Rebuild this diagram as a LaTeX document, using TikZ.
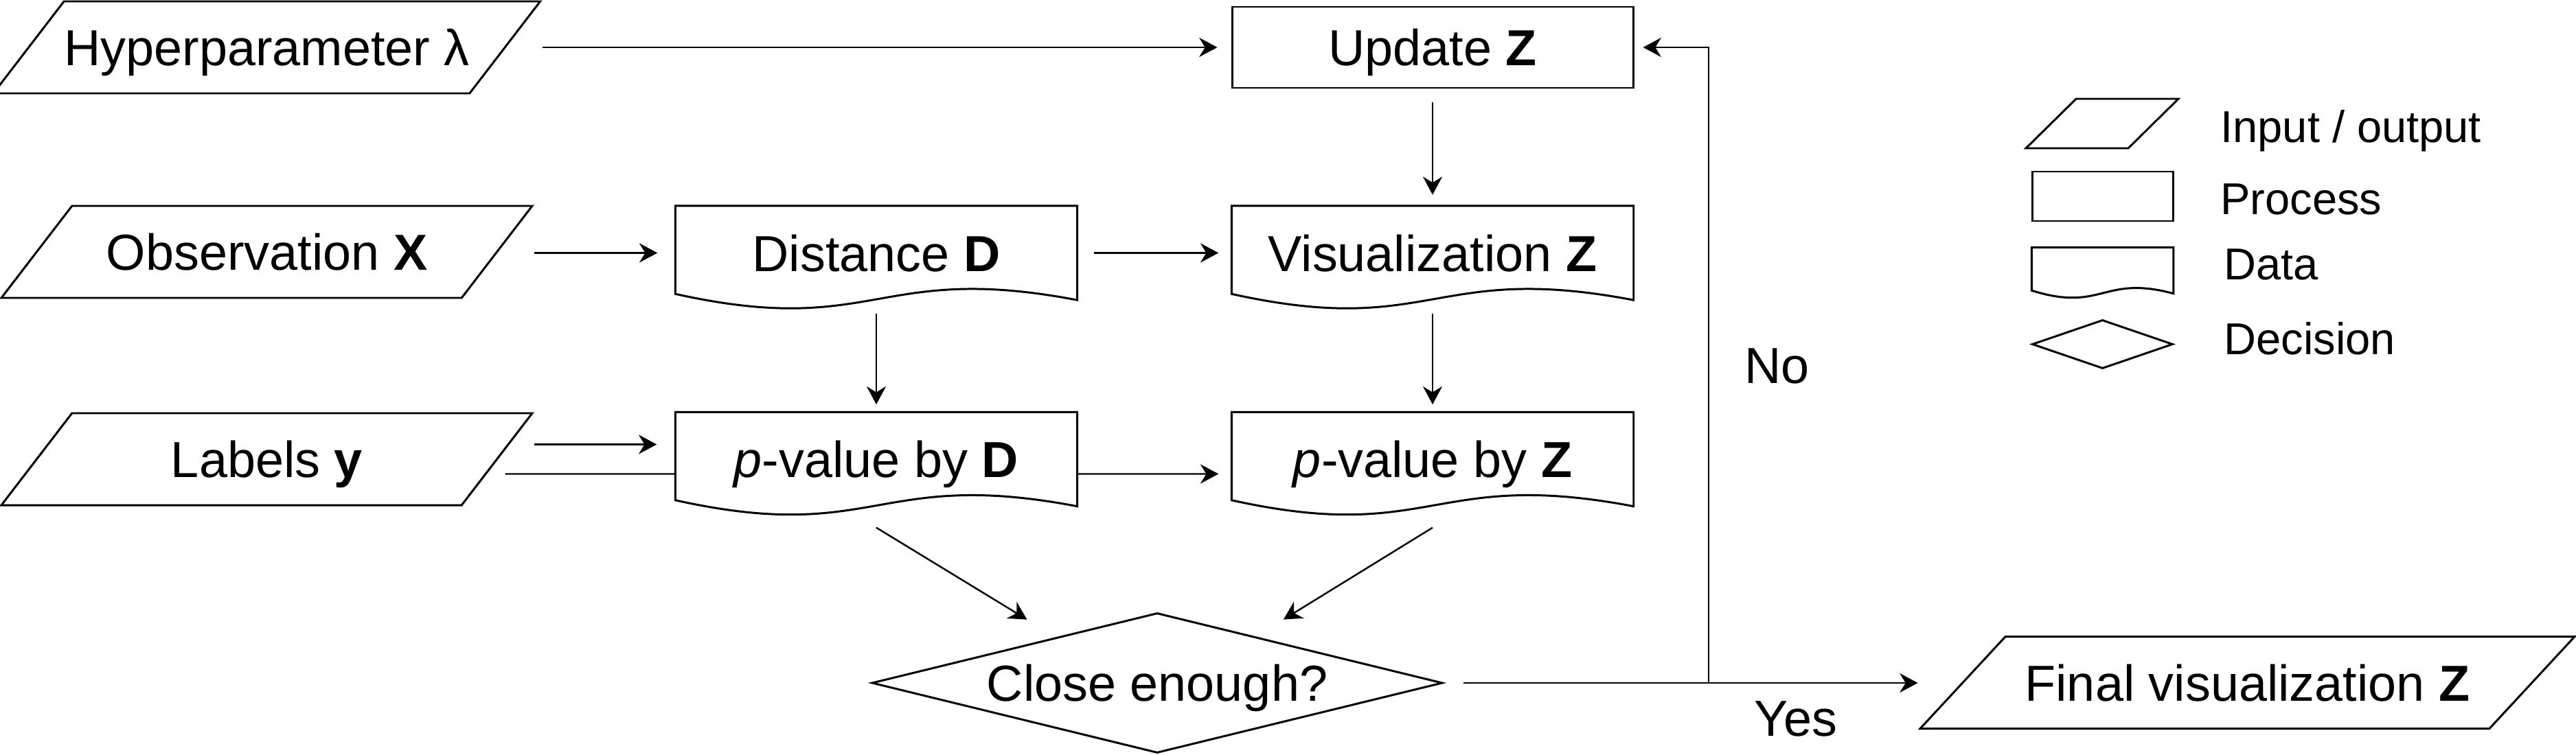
\documentclass[tikz,border=0pt]{standalone}
\usepackage{fontspec}
\setmainfont{Liberation Sans}
\usetikzlibrary{arrows.meta, shapes.geometric, calc, backgrounds}

% outline of a data (document) symbol around a plain node
\newcommand{\docwave}[2]{%
  \draw[line width=0.85pt] (#1.south east) -- (#1.north east) -- (#1.north west)
    -- ($(#1.south west)+(0,0.16*#2)$)
    .. controls ($(#1.south)+(0,-#2)$) and ($(#1.south)+(0,#2)$) .. (#1.south east) -- cycle;
}

\begin{document}
\begin{tikzpicture}[
  font=\fontsize{21}{25}\selectfont,
  every node/.style={text height=0.53cm, text depth=0cm},
  io/.style={trapezium, trapezium left angle=52.5, trapezium right angle=127.5,
             trapezium stretches body=true, draw, fill=white, line width=0.85pt,
             inner xsep=0pt, inner ysep=0.405cm, minimum width=7.73cm},
  proc/.style={rectangle, draw, fill=white, line width=0.85pt,
               minimum width=5.84cm, minimum height=1.18cm, inner sep=0pt},
  data/.style={rectangle, fill=white, minimum width=5.84cm, minimum height=1.36cm, inner sep=0pt},
  decide/.style={diamond, draw, fill=white, line width=0.85pt, aspect=4,
                 minimum width=8.31cm, minimum height=2.04cm, inner sep=0pt},
  arr/.style={-{Stealth[length=7.5pt, width=8pt]}, line width=0.7pt},
  legtext/.style={anchor=base west, font=\fontsize{18.5}{22}\selectfont}
]
\useasboundingbox (0,0) rectangle (37.51,10.99);

% inputs
\node[io] (hyp) at (3.885, 10.30) {Hyperparameter λ};
\node[io] (obs) at (3.885, 7.32) {Observation \textbf{X}};
\node[io] (lab) at (3.885, 4.30) {Labels \textbf{y}};

% process and data
\node[proc] (upd) at (20.86, 10.30) {Update \textbf{Z}};
\node[data] (dist) at (12.76, 7.305) {Distance \textbf{D}};
\node[data] (vis) at (20.86, 7.305) {Visualization \textbf{Z}};
\node[data] (pD) at (12.76, 4.30) {\textit{p}-value by \textbf{D}};
\node[data] (pZ) at (20.86, 4.30) {\textit{p}-value by \textbf{Z}};
\docwave{dist}{0.56}
\docwave{vis}{0.56}
\docwave{pD}{0.56}
\docwave{pZ}{0.56}

\node[decide] (dec) at (16.85, 1.04) {Close enough?};
\node[io, trapezium left angle=47.2, trapezium right angle=132.8,
      minimum width=9.53cm] (final) at (32.725, 1.045) {Final visualization \textbf{Z}};

% legend
\node[io, trapezium left angle=44.6, trapezium right angle=135.4, text height=0pt,
      inner ysep=0.36cm, minimum width=2.22cm] (lio) at (30.61, 9.19) {};
\node[proc, minimum width=2.05cm, minimum height=0.72cm, text height=0pt] (lproc) at (30.615, 8.13) {};
\node[data, minimum width=2.05cm, minimum height=0.66cm, text height=0pt] (ldata) at (30.615, 7.05) {};
\docwave{ldata}{0.28}
\node[decide, minimum width=2.05cm, minimum height=0.71cm, text height=0pt] (ldec) at (30.615, 5.975) {};
\node[legtext] (tio) at (32.21, 8.91) {Input / output};
\node[legtext] (tproc) at (32.21, 7.87) {Process};
\node[legtext] (tdata) at (32.26, 6.92) {Data};
\node[legtext] (tdec) at (32.26, 5.83) {Decision};

% connectors
\coordinate (pDin) at ($(pD.west)+(0,0.215)$);
\coordinate (pZin) at ($(pZ.west)+(0,-0.215)$);
\coordinate (labout) at ($(lab.east)+(0.1,-0.215)$);
\coordinate (fb) at (24.88, 1.04);

\draw[arr, shorten >=0.2cm] (hyp.top right corner |- upd.west) -- (upd.west);
\draw[arr, shorten >=0.26cm] (obs.top right corner |- dist.west) -- (dist.west);
\draw[arr, shorten <=0.24cm, shorten >=0.19cm] (dist.east) -- (vis.west);
\draw[arr, shorten <=0.2cm, shorten >=0.16cm] (upd.south) -- (vis.north);
\draw[arr, shorten <=0.2cm, shorten >=0.11cm] (dist.south) -- (pD.north);
\draw[arr, shorten <=0.2cm, shorten >=0.11cm] (vis.south) -- (pZ.north);
\draw[arr, shorten >=0.27cm] (lab.top right corner |- pDin) -- (pDin);
\begin{scope}[on background layer]
  \draw[arr, shorten >=0.19cm] (labout) -- (pZin);
\end{scope}
\draw[arr, shorten >=0.49cm] ([yshift=-0.31cm]pD.south) -- ($(dec.west)!0.646!(dec.north)$);
\draw[arr, shorten >=0.47cm] ([yshift=-0.31cm]pZ.south) -- ($(dec.east)!0.655!(dec.north)$);
\draw[arr, shorten <=0.29cm] (dec.east) -- (final.bottom left corner |- dec.east);
\draw[arr, shorten >=0.13cm] (fb) |- (upd.east);
\node[anchor=base west] (no) at (25.28, 5.41) {No};
\node[anchor=base] (yes) at (26.15, 0.27) {Yes};
\end{tikzpicture}
\end{document}
